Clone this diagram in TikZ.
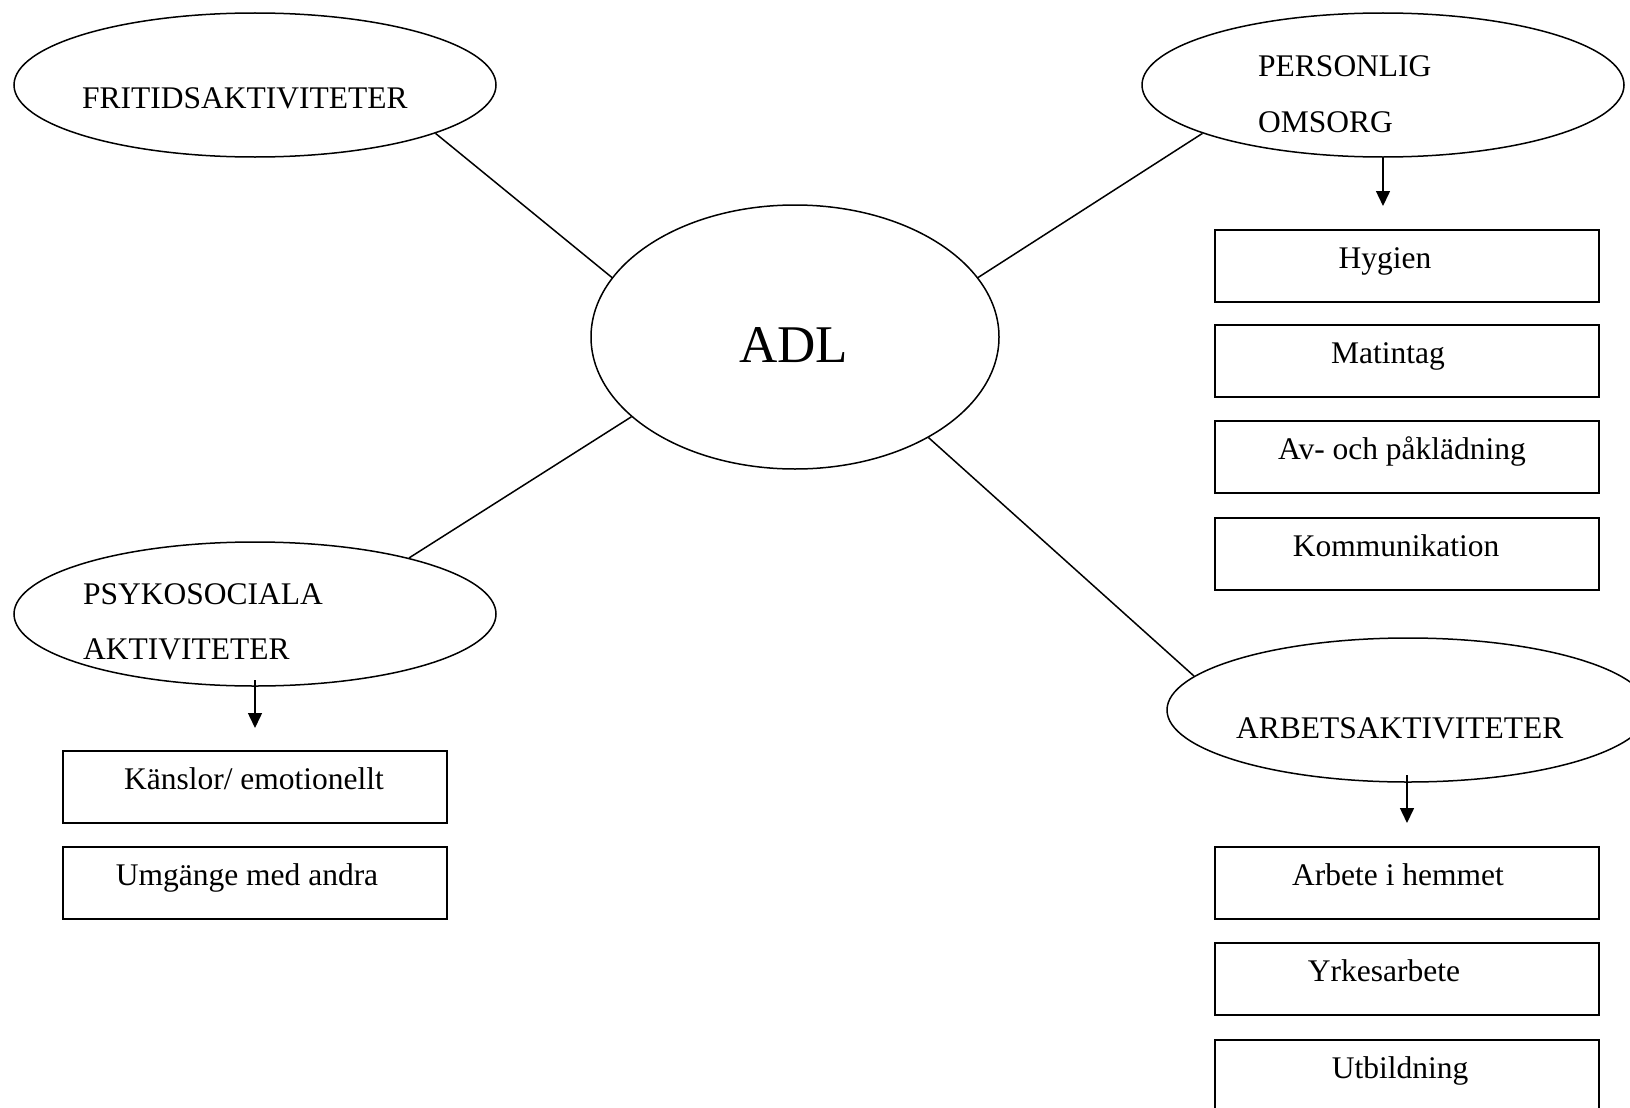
\documentclass[tikz,border=0pt]{standalone}
\usepackage{fontspec}
\setmainfont{Liberation Serif}
\usetikzlibrary{shapes.geometric,arrows.meta,calc}
\begin{document}
\begin{tikzpicture}[x=1pt,y=-1pt,
  oval/.style={draw,ellipse,line width=1.5pt,inner sep=0pt,minimum width=482pt,minimum height=144pt},
  bigoval/.style={draw,ellipse,line width=1.5pt,inner sep=0pt,minimum width=408pt,minimum height=264pt},
  box/.style={draw,rectangle,line width=1.5pt,inner sep=0pt,minimum width=384pt,minimum height=72pt},
  lbl/.style={inner sep=0pt,font=\fontsize{31.5}{37}\selectfont},
  biglbl/.style={inner sep=0pt,font=\fontsize{53}{60}\selectfont},
  link/.style={line width=1.5pt},
  arr/.style={line width=1.5pt,-{Triangle[width=14pt,length=15pt]}}]
\useasboundingbox (0,0) rectangle (1630,1108);

% ellipses
\node[bigoval] (adl) at (795,337) {};
\node[oval] (frit) at (255,85) {};
\node[oval] (pers) at (1383,85) {};
\node[oval] (psyk) at (255,614) {};
\node[oval] (arb) at (1408,710) {};

% ellipse texts
\node[biglbl,anchor=base west] (tadl) at (739,362) {ADL};
\node[lbl,anchor=base west] (tfrit) at (82,108) {FRITIDSAKTIVITETER};
\node[lbl,anchor=base west] (tpers1) at (1258,77) {PERSONLIG};
\node[lbl,anchor=base west] (tpers2) at (1258,132) {OMSORG};
\node[lbl,anchor=base west] (tpsyk1) at (83,604) {PSYKOSOCIALA};
\node[lbl,anchor=base west] (tpsyk2) at (83,659) {AKTIVITETER};
\node[lbl,anchor=base west] (tarb) at (1236,738) {ARBETSAKTIVITETER};

% connectors from ADL
\draw[link] (adl.162) -- (frit.-15.5);
\draw[link] (adl.18.3) -- (pers.-165.9);
\draw[link] (adl.206.9) -- (psyk.20.9);
\draw[link] (adl.-37.2) -- (arb.171.4);

% right column boxes (personlig omsorg)
\node[box] (hyg) at (1407,266) {};
\node[box] (mat) at (1407,361) {};
\node[box] (avp) at (1407,457) {};
\node[box] (kom) at (1407,554) {};
\node[lbl,anchor=base] (thyg) at (1385,268) {Hygien};
\node[lbl,anchor=base] (tmat) at (1388,363) {Matintag};
\node[lbl,anchor=base] (tavp) at (1402,459) {Av- och påklädning};
\node[lbl,anchor=base] (tkom) at (1396,556) {Kommunikation};

% arbetsaktiviteter boxes
\node[box] (hem) at (1407,883) {};
\node[box] (yrk) at (1407,979) {};
\node[box] (utb) at (1407,1076) {};
\node[lbl,anchor=base] (them) at (1398,885) {Arbete i hemmet};
\node[lbl,anchor=base] (tyrk) at (1384,981) {Yrkesarbete};
\node[lbl,anchor=base] (tutb) at (1400,1078) {Utbildning};

% psykosociala boxes
\node[box] (kan) at (255,787) {};
\node[box] (umg) at (255,883) {};
\node[lbl,anchor=base] (tkan) at (254,789) {Känslor/ emotionellt};
\node[lbl,anchor=base] (tumg) at (247,885) {Umgänge med andra};

% arrows
\coordinate (persarr) at (1383,206);
\coordinate (psykarr) at (255,728);
\coordinate (arbarr) at (1407,823);
\draw[arr] (1383,157) coordinate (perss) -- (persarr);
\draw[arr] (255,680) coordinate (psyks) -- (psykarr);
\draw[arr] (1407,775) coordinate (arbs) -- (arbarr);
\end{tikzpicture}
\end{document}
